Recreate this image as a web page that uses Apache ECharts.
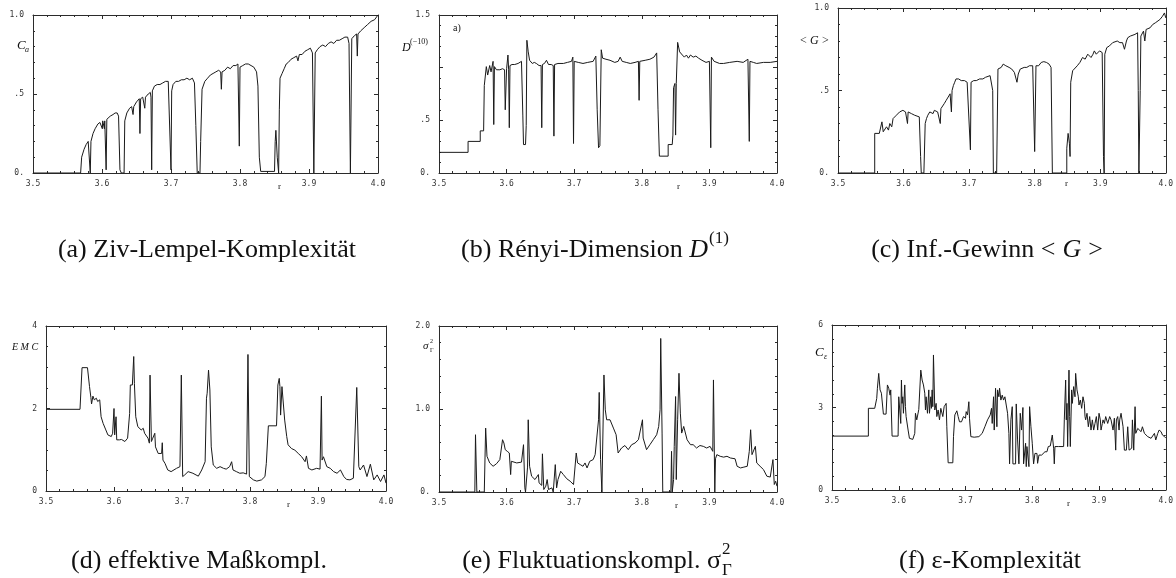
<!DOCTYPE html>
<html>
<head>
<meta charset="utf-8">
<script src="https://cdn.jsdelivr.net/npm/echarts@6/dist/echarts.min.js"></script>
<style>
  html, body { margin: 0; padding: 0; background: #fff; }
  #chart { width: 1176px; height: 578px; }
</style>
</head>
<body>
<div id="chart"></div>
<script>
// x ticks shared by all six panels (parameter r of the logistic map)
const rTicks = [3.5, 3.6, 3.7, 3.8, 3.9, 4.0];

// (a) Ziv-Lempel complexity
const zivLempel = [[3.5,0],[3.569,0],[3.5705,0.1],[3.574,0.15],[3.577,0.18],[3.580,0.2],[3.582,0.19],[3.583,0.0],[3.584,0.2],[3.587,0.25],[3.590,0.28],[3.594,0.31],[3.597,0.32],[3.599,0.33],[3.6005,0.28],[3.601,0.33],[3.603,0.32],[3.6035,0.28],[3.604,0.33],[3.606,0.02],[3.607,0.34],[3.609,0.35],[3.612,0.36],[3.616,0.37],[3.619,0.38],[3.622,0.38],[3.624,0.36],[3.626,0.02],[3.628,0],[3.632,0],[3.633,0.33],[3.636,0.38],[3.640,0.41],[3.643,0.42],[3.645,0.37],[3.646,0.42],[3.650,0.45],[3.654,0.47],[3.655,0.25],[3.656,0.47],[3.659,0.48],[3.661,0.47],[3.662,0.41],[3.663,0.48],[3.667,0.5],[3.670,0.51],[3.671,0.48],[3.672,0.02],[3.673,0.52],[3.676,0.55],[3.680,0.56],[3.684,0.56],[3.688,0.57],[3.692,0.58],[3.696,0.58],[3.698,0.57],[3.700,0.02],[3.701,0.52],[3.703,0.56],[3.707,0.58],[3.711,0.58],[3.715,0.59],[3.719,0.59],[3.723,0.6],[3.727,0.59],[3.731,0.6],[3.734,0.57],[3.736,0.3],[3.738,0.0],[3.742,0.0],[3.743,0.2],[3.745,0.53],[3.749,0.58],[3.753,0.6],[3.757,0.62],[3.761,0.63],[3.765,0.64],[3.769,0.65],[3.772,0.64],[3.773,0.53],[3.774,0.64],[3.778,0.65],[3.782,0.67],[3.786,0.66],[3.790,0.68],[3.794,0.68],[3.797,0.69],[3.799,0.17],[3.800,0.67],[3.804,0.68],[3.808,0.69],[3.812,0.69],[3.816,0.68],[3.820,0.67],[3.824,0.64],[3.826,0.55],[3.828,0.1],[3.830,0.01],[3.840,0.01],[3.850,0.01],[3.851,0.2],[3.852,0.27],[3.854,0.1],[3.856,0.0],[3.857,0.4],[3.858,0.6],[3.861,0.63],[3.864,0.66],[3.867,0.69],[3.870,0.7],[3.874,0.72],[3.878,0.73],[3.882,0.74],[3.884,0.71],[3.886,0.75],[3.890,0.75],[3.894,0.77],[3.898,0.78],[3.902,0.79],[3.905,0.76],[3.907,0.0],[3.909,0.76],[3.912,0.78],[3.916,0.8],[3.920,0.81],[3.924,0.8],[3.928,0.82],[3.932,0.83],[3.936,0.82],[3.940,0.84],[3.944,0.84],[3.948,0.85],[3.952,0.86],[3.956,0.86],[3.958,0.82],[3.960,0.0],[3.962,0.85],[3.966,0.87],[3.969,0.88],[3.970,0.74],[3.971,0.88],[3.975,0.9],[3.980,0.92],[3.985,0.94],[3.990,0.96],[3.995,0.97],[4.0,1.0]];

// (b) Renyi dimension
const renyiDim = [[3.5,0.196],[3.543,0.196],[3.543,0.30],[3.561,0.30],[3.561,0.40],[3.566,0.40],[3.567,0.83],[3.570,1.01],[3.572,0.93],[3.575,1.02],[3.577,0.96],[3.580,1.06],[3.581,0.46],[3.582,1.01],[3.585,0.98],[3.590,0.98],[3.594,0.99],[3.597,0.98],[3.598,0.60],[3.600,0.99],[3.602,1.12],[3.603,0.98],[3.604,0.43],[3.605,1.02],[3.608,1.03],[3.612,1.03],[3.617,1.04],[3.622,1.06],[3.624,0.55],[3.625,0.27],[3.628,0.27],[3.629,0.45],[3.630,1.26],[3.632,1.15],[3.634,1.07],[3.638,1.04],[3.641,1.05],[3.644,1.04],[3.648,1.02],[3.651,1.02],[3.652,0.43],[3.653,1.03],[3.656,1.04],[3.659,1.07],[3.662,1.03],[3.666,1.03],[3.669,1.02],[3.670,0.35],[3.671,1.03],[3.676,1.04],[3.684,1.04],[3.690,1.05],[3.696,1.06],[3.698,1.1],[3.699,0.28],[3.700,1.06],[3.706,1.05],[3.713,1.04],[3.720,1.05],[3.728,1.06],[3.732,1.11],[3.734,0.6],[3.736,0.24],[3.738,0.26],[3.740,1.17],[3.742,1.09],[3.747,1.08],[3.753,1.07],[3.760,1.05],[3.765,1.06],[3.768,1.1],[3.771,1.06],[3.777,1.05],[3.783,1.04],[3.790,1.05],[3.795,1.06],[3.796,0.69],[3.797,1.06],[3.805,1.07],[3.812,1.08],[3.818,1.1],[3.822,1.14],[3.824,0.6],[3.826,0.16],[3.839,0.16],[3.839,0.27],[3.845,0.27],[3.846,0.36],[3.847,0.81],[3.849,0.85],[3.850,0.36],[3.851,0.85],[3.853,1.24],[3.856,1.15],[3.860,1.12],[3.863,1.10],[3.866,1.12],[3.869,1.09],[3.872,1.12],[3.876,1.10],[3.880,1.11],[3.884,1.09],[3.889,1.07],[3.895,1.05],[3.900,1.06],[3.902,0.24],[3.903,1.1],[3.907,1.06],[3.915,1.04],[3.921,1.04],[3.930,1.05],[3.941,1.06],[3.950,1.05],[3.957,1.08],[3.959,0.30],[3.960,1.06],[3.965,1.05],[3.970,1.04],[3.980,1.05],[3.990,1.05],[4.0,1.06]];

// (c) information gain <G>
const infoGain = [[3.5,0],[3.556,0],[3.556,0.24],[3.563,0.24],[3.566,0.25],[3.567,0.31],[3.569,0.25],[3.574,0.28],[3.577,0.26],[3.579,0.30],[3.582,0.28],[3.584,0.33],[3.587,0.32],[3.589,0.35],[3.592,0.34],[3.594,0.37],[3.597,0.36],[3.599,0.38],[3.603,0.37],[3.605,0.36],[3.606,0.30],[3.607,0.37],[3.610,0.36],[3.612,0.36],[3.615,0.35],[3.617,0.35],[3.620,0.34],[3.624,0.34],[3.626,0.1],[3.627,0],[3.631,0],[3.633,0.3],[3.635,0.33],[3.637,0.35],[3.640,0.37],[3.642,0.37],[3.645,0.36],[3.647,0.38],[3.650,0.37],[3.652,0.37],[3.655,0.36],[3.656,0.30],[3.657,0.39],[3.659,0.40],[3.662,0.42],[3.665,0.44],[3.668,0.45],[3.671,0.48],[3.672,0.49],[3.673,0.37],[3.674,0.5],[3.676,0.53],[3.678,0.55],[3.680,0.57],[3.684,0.57],[3.688,0.56],[3.693,0.56],[3.697,0.55],[3.700,0.54],[3.702,0.14],[3.703,0.55],[3.707,0.56],[3.711,0.56],[3.716,0.57],[3.721,0.57],[3.725,0.58],[3.728,0.59],[3.732,0.59],[3.734,0.60],[3.736,0.50],[3.737,0],[3.742,0],[3.744,0.63],[3.747,0.63],[3.749,0.64],[3.752,0.66],[3.756,0.65],[3.761,0.64],[3.765,0.63],[3.769,0.61],[3.771,0.62],[3.773,0.55],[3.775,0.60],[3.778,0.63],[3.784,0.64],[3.788,0.64],[3.792,0.65],[3.797,0.65],[3.799,0.64],[3.800,0.13],[3.802,0.65],[3.806,0.65],[3.810,0.67],[3.814,0.675],[3.818,0.67],[3.822,0.66],[3.825,0.64],[3.827,0],[3.849,0],[3.849,0.15],[3.851,0.24],[3.853,0.18],[3.854,0.1],[3.855,0.55],[3.858,0.62],[3.861,0.63],[3.865,0.65],[3.869,0.67],[3.873,0.70],[3.877,0.69],[3.881,0.72],[3.884,0.71],[3.886,0.70],[3.889,0.72],[3.891,0.74],[3.894,0.72],[3.896,0.72],[3.899,0.74],[3.901,0.75],[3.903,0.73],[3.905,0.1],[3.906,0.0],[3.907,0.72],[3.910,0.76],[3.914,0.77],[3.919,0.79],[3.922,0.79],[3.926,0.80],[3.930,0.79],[3.934,0.79],[3.937,0.75],[3.940,0.80],[3.942,0.82],[3.946,0.83],[3.949,0.84],[3.953,0.84],[3.957,0.85],[3.958,0.5],[3.959,0],[3.961,0.5],[3.962,0.83],[3.966,0.86],[3.968,0.80],[3.970,0.87],[3.972,0.87],[3.976,0.88],[3.980,0.90],[3.984,0.91],[3.987,0.92],[3.991,0.93],[3.995,0.95],[3.998,0.97],[4.0,0.94]];

// (d) effective measure complexity EMC
const emc = [[3.5,1.98],[3.550,1.98],[3.553,2.99],[3.561,2.99],[3.564,2.53],[3.566,2.27],[3.567,2.11],[3.569,2.30],[3.571,2.21],[3.574,2.25],[3.576,2.17],[3.579,2.21],[3.581,1.80],[3.584,1.64],[3.588,1.48],[3.591,1.36],[3.596,1.32],[3.598,1.40],[3.600,2.0],[3.601,1.36],[3.603,1.80],[3.604,1.24],[3.608,1.24],[3.611,1.25],[3.616,1.20],[3.620,1.28],[3.623,1.88],[3.624,2.57],[3.627,2.57],[3.629,3.26],[3.630,2.61],[3.632,1.80],[3.635,1.56],[3.640,1.48],[3.643,1.52],[3.645,1.40],[3.647,1.44],[3.650,1.28],[3.652,1.16],[3.653,2.81],[3.655,1.20],[3.657,1.28],[3.660,1.40],[3.661,1.07],[3.665,0.91],[3.667,0.95],[3.670,0.91],[3.671,1.17],[3.672,0.75],[3.675,0.67],[3.679,0.51],[3.684,0.47],[3.692,0.55],[3.697,0.59],[3.699,2.81],[3.701,0.35],[3.704,0.39],[3.709,0.47],[3.716,0.43],[3.724,0.36],[3.729,0.51],[3.734,0.71],[3.736,2.25],[3.737,2.37],[3.739,2.93],[3.741,2.45],[3.743,1.07],[3.746,0.63],[3.751,0.55],[3.756,0.59],[3.761,0.55],[3.765,0.53],[3.770,0.59],[3.773,0.71],[3.775,0.51],[3.780,0.47],[3.785,0.43],[3.790,0.44],[3.795,0.41],[3.797,3.31],[3.799,0.35],[3.805,0.27],[3.810,0.24],[3.817,0.27],[3.822,0.35],[3.824,0.67],[3.827,1.58],[3.839,1.58],[3.841,2.57],[3.843,2.73],[3.844,2.53],[3.845,1.84],[3.847,2.53],[3.849,2.49],[3.851,1.72],[3.854,1.32],[3.856,1.12],[3.861,1.03],[3.866,0.99],[3.871,0.91],[3.876,0.83],[3.881,0.71],[3.883,0.85],[3.886,0.55],[3.891,0.51],[3.898,0.55],[3.903,0.53],[3.905,2.30],[3.906,0.75],[3.908,0.83],[3.913,0.59],[3.918,0.55],[3.923,0.47],[3.928,0.43],[3.933,0.51],[3.938,0.35],[3.942,0.28],[3.947,0.27],[3.952,0.31],[3.957,2.51],[3.960,0.59],[3.962,0.51],[3.967,0.63],[3.972,0.35],[3.977,0.65],[3.982,0.27],[3.987,0.39],[3.992,0.23],[3.997,0.39],[4.0,0.19]];

// (e) fluctuation complexity sigma_Gamma^2
const fluct = [[3.5,0],[3.553,0],[3.554,0.69],[3.556,0],[3.567,0],[3.569,0.77],[3.571,0.43],[3.575,0.35],[3.580,0.31],[3.585,0.34],[3.590,0.39],[3.594,0.63],[3.596,0.59],[3.598,0.51],[3.601,0.49],[3.604,0.47],[3.606,0.21],[3.607,0.37],[3.615,0.35],[3.622,0.36],[3.625,0.57],[3.627,0.05],[3.628,0],[3.631,0.3],[3.632,0.87],[3.634,0.31],[3.637,0.19],[3.642,0.15],[3.647,0.21],[3.648,0.11],[3.652,0.08],[3.653,0.46],[3.655,0.03],[3.658,0.07],[3.660,0.15],[3.662,0.03],[3.667,0.05],[3.669,0],[3.672,0.33],[3.674,0.05],[3.676,0.15],[3.680,0.25],[3.684,0.21],[3.689,0.16],[3.694,0.13],[3.699,0.09],[3.701,0.07],[3.703,0.47],[3.705,0.35],[3.709,0.33],[3.713,0.31],[3.716,0.35],[3.719,0.29],[3.723,0.37],[3.728,0.39],[3.731,0.45],[3.736,0.87],[3.737,1.2],[3.739,0.39],[3.741,0],[3.742,0.47],[3.744,1.41],[3.746,0.99],[3.748,0.87],[3.753,0.87],[3.758,0.77],[3.762,0.69],[3.765,0.47],[3.770,0.53],[3.775,0.56],[3.780,0.51],[3.785,0.57],[3.790,0.59],[3.795,0.63],[3.801,0.87],[3.802,0.65],[3.807,0.51],[3.812,0.57],[3.817,0.63],[3.822,0.69],[3.825,0.79],[3.827,0.99],[3.828,1.85],[3.830,0.71],[3.831,0],[3.843,0],[3.844,0.49],[3.845,0],[3.847,0.15],[3.848,0.55],[3.850,1.15],[3.851,0.15],[3.853,0.87],[3.855,1.43],[3.857,0.95],[3.859,0.71],[3.862,0.79],[3.867,0.63],[3.872,0.57],[3.876,0.57],[3.881,0.53],[3.886,0.56],[3.891,0.55],[3.896,0.53],[3.901,0.55],[3.905,0.49],[3.906,1.35],[3.908,0],[3.909,0.4],[3.911,0.45],[3.916,0.43],[3.921,0.42],[3.926,0.43],[3.931,0.41],[3.938,0.40],[3.941,0.31],[3.946,0.29],[3.951,0.30],[3.956,0.31],[3.959,0.49],[3.961,0.75],[3.963,0.45],[3.968,0.55],[3.970,0.35],[3.975,0.31],[3.980,0.27],[3.985,0.19],[3.990,0.18],[3.994,0.39],[3.996,0.09],[3.998,0.13],[4.0,0.07]];

// (f) epsilon complexity C_eps
const epsComp = [[3.5,1.96],[3.5545,1.96],[3.5545,2.97],[3.564,2.97],[3.567,3.33],[3.568,3.70],[3.570,4.24],[3.572,3.64],[3.574,3.52],[3.577,2.76],[3.581,2.76],[3.583,3.82],[3.585,3.70],[3.587,3.45],[3.588,3.64],[3.590,1.96],[3.599,1.96],[3.600,3.39],[3.603,2.42],[3.604,4.0],[3.605,3.15],[3.606,3.39],[3.607,2.79],[3.609,3.82],[3.610,3.03],[3.611,2.67],[3.614,2.18],[3.616,1.88],[3.621,1.84],[3.624,2.06],[3.625,2.79],[3.627,2.55],[3.630,2.93],[3.633,4.36],[3.635,4.0],[3.637,3.82],[3.639,3.52],[3.640,2.91],[3.641,3.39],[3.643,2.79],[3.645,3.64],[3.646,2.79],[3.648,3.39],[3.649,2.97],[3.650,3.64],[3.651,3.03],[3.652,4.91],[3.654,2.91],[3.656,3.15],[3.657,2.67],[3.659,2.91],[3.661,2.55],[3.663,2.97],[3.666,2.67],[3.668,3.03],[3.671,3.15],[3.672,2.30],[3.674,0.99],[3.681,0.99],[3.682,1.94],[3.684,2.73],[3.687,2.88],[3.689,2.67],[3.691,2.48],[3.694,2.48],[3.697,2.67],[3.700,2.61],[3.701,2.85],[3.703,2.73],[3.705,3.21],[3.706,2.61],[3.708,1.94],[3.713,1.92],[3.720,1.94],[3.725,2.06],[3.729,2.30],[3.733,2.55],[3.735,2.61],[3.737,2.73],[3.739,2.97],[3.740,2.42],[3.742,3.39],[3.743,2.18],[3.745,3.70],[3.747,2.30],[3.748,3.64],[3.750,3.39],[3.751,3.70],[3.753,3.27],[3.755,3.45],[3.757,3.27],[3.759,3.39],[3.761,3.09],[3.763,2.79],[3.765,2.06],[3.766,0.95],[3.768,2.55],[3.770,3.03],[3.771,0.95],[3.775,0.95],[3.776,3.13],[3.778,1.82],[3.780,0.95],[3.782,2.79],[3.784,2.18],[3.786,3.0],[3.787,0.95],[3.790,1.70],[3.791,0.85],[3.792,1.58],[3.795,0.85],[3.796,3.03],[3.798,2.30],[3.800,1.70],[3.802,0.95],[3.804,1.33],[3.807,1.33],[3.808,0.97],[3.810,1.27],[3.814,1.27],[3.819,1.39],[3.822,1.39],[3.824,1.58],[3.827,1.60],[3.828,1.64],[3.830,2.0],[3.832,1.52],[3.833,0.95],[3.834,1.58],[3.839,1.58],[3.847,1.58],[3.848,2.55],[3.850,4.0],[3.851,2.55],[3.852,3.15],[3.853,1.58],[3.855,4.36],[3.856,2.67],[3.857,1.58],[3.859,3.64],[3.860,3.15],[3.862,3.76],[3.864,3.39],[3.865,4.24],[3.867,3.64],[3.869,3.39],[3.870,3.09],[3.872,3.27],[3.874,2.97],[3.876,3.39],[3.878,3.15],[3.879,2.67],[3.880,2.55],[3.882,2.79],[3.884,2.30],[3.886,2.67],[3.888,2.18],[3.890,2.55],[3.892,2.18],[3.894,2.42],[3.896,2.67],[3.898,2.18],[3.900,2.79],[3.902,2.55],[3.903,2.18],[3.905,2.42],[3.906,2.55],[3.908,2.42],[3.910,2.67],[3.912,2.61],[3.913,2.42],[3.916,2.67],[3.918,2.55],[3.921,2.18],[3.923,2.61],[3.925,1.45],[3.926,2.55],[3.928,2.67],[3.930,2.18],[3.931,2.55],[3.933,2.79],[3.936,2.30],[3.938,1.45],[3.941,1.45],[3.943,2.30],[3.945,1.45],[3.947,1.45],[3.949,1.52],[3.950,2.55],[3.952,1.45],[3.954,3.03],[3.955,2.06],[3.958,2.24],[3.960,2.18],[3.963,2.12],[3.965,2.30],[3.968,2.06],[3.970,2.06],[3.973,1.94],[3.975,2.0],[3.978,1.88],[3.980,1.94],[3.983,2.06],[3.985,1.82],[3.988,2.06],[3.990,2.18],[3.993,2.12],[3.995,2.0],[3.998,1.94],[4.0,1.9]];

// y tick labels, as printed on the original plots
const yLabelsA = { '0': '0.', '0.5': '.5', '1': '1.0' };
const yLabelsB = { '0': '0.', '0.5': '.5', '1.5': '1.5' };
const yLabelsC = { '0': '0.', '0.5': '.5', '1': '1.0' };
const yLabelsD = { '0': '0', '2': '2', '4': '4' };
const yLabelsE = { '0': '0.', '1': '1.0', '2': '2.0' };
const yLabelsF = { '0': '0', '3': '3', '6': '6' };

const frame = '#2b2b2b';
const mono = '"DejaVu Sans Mono", monospace';
const serif = '"Liberation Serif", "DejaVu Serif", serif';

// panel layout: grid box in px, y range, tick step and minor ticks
const panels = [
  { data: zivLempel, box: [33, 15, 345, 158], yMax: 1, yStep: 0.5, yMinor: 5, labels: yLabelsA },
  { data: renyiDim, box: [439, 15, 338, 158], yMax: 1.5, yStep: 0.5, yMinor: 5, labels: yLabelsB },
  { data: infoGain, box: [838, 8, 329, 165], yMax: 1, yStep: 0.5, yMinor: 5, labels: yLabelsC },
  { data: emc, box: [46, 326, 340, 165], yMax: 4, yStep: 2, yMinor: 4, labels: yLabelsD },
  { data: fluct, box: [439, 326, 338, 166], yMax: 2, yStep: 1, yMinor: 5, labels: yLabelsE },
  { data: epsComp, box: [832, 325, 336, 165], yMax: 6, yStep: 3, yMinor: 6, labels: yLabelsF }
];

const grid = [], xAxis = [], yAxis = [], series = [];

panels.forEach((p, i) => {
  grid.push({ left: p.box[0], top: p.box[1], width: p.box[2], height: p.box[3] });

  const tick = { show: true, inside: true, length: 4, lineStyle: { color: frame, width: 1 } };
  const minor = (n) => ({ show: true, splitNumber: n, length: 2, lineStyle: { color: frame, width: 1 } });
  const line = { show: true, onZero: false, lineStyle: { color: frame, width: 1 } };

  ['bottom', 'top'].forEach((pos) => {
    xAxis.push({
      gridIndex: i, type: 'value', position: pos,
      min: rTicks[0], max: rTicks[rTicks.length - 1], interval: 0.1,
      axisLine: line, axisTick: tick, minorTick: minor(5),
      splitLine: { show: false },
      axisLabel: {
        show: pos === 'bottom', margin: 7, fontFamily: mono, fontSize: 8, color: '#333',
        formatter: (v) => v.toFixed(1)
      }
    });
  });

  ['left', 'right'].forEach((pos) => {
    yAxis.push({
      gridIndex: i, type: 'value', position: pos,
      min: 0, max: p.yMax, interval: p.yStep,
      axisLine: line, axisTick: tick, minorTick: minor(p.yMinor),
      splitLine: { show: false },
      axisLabel: {
        show: pos === 'left', margin: 9, fontFamily: mono, fontSize: 8, color: '#333',
        formatter: (v) => p.labels[String(+v.toFixed(2))] || ''
      }
    });
  });

  series.push({
    type: 'line', xAxisIndex: i * 2, yAxisIndex: i * 2,
    data: p.data, symbol: 'none', silent: true,
    lineStyle: { color: '#1a1a1a', width: 1 }
  });
});

// helper for free text (axis names)
function txt(text, x, y, size, extra) {
  return {
    type: 'text', x: x, y: y, silent: true,
    style: Object.assign({
      text: text, fontFamily: serif, fontSize: size, fill: '#111',
      align: 'left', verticalAlign: 'middle'
    }, extra || {})
  };
}
const it = { fontStyle: 'italic' };

// caption centred on cx, built from pieces laid out one after another
const capSize = 26;
const ctx = document.createElement('canvas').getContext('2d');
function pieceWidth(pc) {
  ctx.font = (pc.italic ? 'italic ' : '') + (pc.size || capSize) + 'px "Liberation Serif"';
  return ctx.measureText(pc.t).width;
}
function caption(cx, y, pieces) {
  let total = 0;
  pieces.forEach((pc) => { if (!pc.stay) total += pieceWidth(pc) + (pc.gap || 0); });
  let x = cx - total / 2;
  const out = [];
  pieces.forEach((pc) => {
    out.push(txt(pc.t, x, y + (pc.dy || 0), pc.size || capSize, pc.italic ? it : null));
    if (!pc.stay) x += pieceWidth(pc) + (pc.gap || 0);
  });
  return out;
}

const row1 = 250, row2 = 561;
const graphic = [
  // axis names
  txt('C', 17, 46, 13, it), txt('a', 25, 50, 8, it),
  txt('D', 402, 48, 12, it), txt('(−10)', 410, 42, 8),
  txt('< ', 800, 41, 12), txt('G', 810, 41, 12, it), txt(' >', 819, 41, 12),
  txt('E M C', 12, 347, 10, it),
  txt('σ', 423, 346, 11, it), txt('2', 430, 341, 6), txt('Γ', 430, 350, 6),
  txt('C', 815, 353, 13, it), txt('ε', 824, 357, 8, it),
  txt('a)', 453, 28, 10),
  // r axis names
  txt('r', 278, 187, 9), txt('r', 677, 187, 9), txt('r', 1065, 184, 9),
  txt('r', 287, 505, 9), txt('r', 675, 506, 9), txt('r', 1067, 504, 9)
].concat(
  caption(207, row1, [{ t: '(a) Ziv-Lempel-Komplexität' }]),
  caption(595, row1, [{ t: '(b) Rényi-Dimension ' }, { t: 'D', italic: true, gap: 1 }, { t: '(1)', size: 17, dy: -11 }]),
  caption(987, row1, [{ t: '(c) Inf.-Gewinn ' }, { t: '<', gap: 7 }, { t: 'G', italic: true, gap: 7 }, { t: '>' }]),
  caption(199, row2, [{ t: '(d) effektive Maßkompl.' }]),
  caption(597, row2, [{ t: '(e) Fluktuationskompl. ' }, { t: 'σ', gap: 1 }, { t: '2', size: 17, dy: -11, stay: true }, { t: 'Γ', size: 17, dy: 10 }]),
  caption(990, row2, [{ t: '(f) ε-Komplexität' }])
);

const chart = echarts.init(document.getElementById('chart'), null, { renderer: 'canvas' });
chart.setOption({
  animation: false,
  backgroundColor: '#fff',
  grid: grid,
  xAxis: xAxis,
  yAxis: yAxis,
  series: series,
  graphic: graphic
});
</script>
</body>
</html>
